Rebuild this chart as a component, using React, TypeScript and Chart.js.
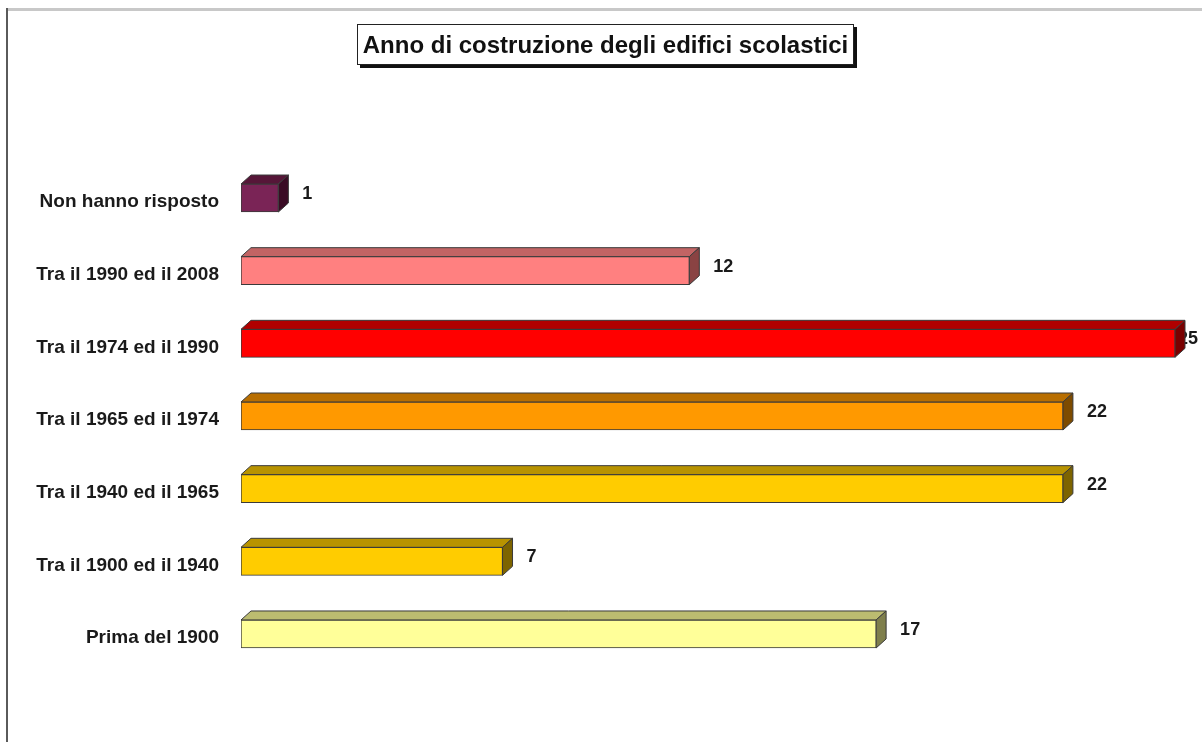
import React, { useEffect, useRef } from "react";
import { Chart, registerables } from "chart.js";

Chart.register(...registerables);

const titleText = "Anno di costruzione degli edifici scolastici";
const categories = [
  "Non hanno risposto",
  "Tra il 1990 ed il 2008",
  "Tra il 1974 ed il 1990",
  "Tra il 1965 ed il 1974",
  "Tra il 1940 ed il 1965",
  "Tra il 1900 ed il 1940",
  "Prima del 1900",
];
const values = [1, 12, 25, 22, 22, 7, 17];
const frontColors = ["#7a2456", "#ff8080", "#ff0000", "#ff9900", "#ffcc00", "#ffcc00", "#ffff99"];
const topColors = ["#561638", "#c26464", "#b00000", "#b86e00", "#b89300", "#b89300", "#bcbc70"];
const sideColors = ["#3a0c25", "#8a4343", "#7a0000", "#7d4b00", "#7d6400", "#7d6400", "#7f7f4c"];
const X_MAX = 25;

const FONT = "'Liberation Sans', Arial, Helvetica, sans-serif";

const bar3d = {
  id: "bar3d",
  beforeDatasetsDraw(chart: any) {
    const ctx = chart.ctx as CanvasRenderingContext2D;
    const meta = chart.getDatasetMeta(0);
    const DX = 10;
    const DY = 9;
    ctx.save();
    // value labels (drawn first so bar faces may cover them)
    ctx.font = "bold 18px " + FONT;
    ctx.fillStyle = "#1a1a1a";
    ctx.textBaseline = "middle";
    ctx.textAlign = "left";
    meta.data.forEach((el: any, i: number) => {
      const { x, y } = el.getProps(["x", "y"], true);
      const txt = String(values[i]);
      const w = ctx.measureText(txt).width;
      let lx = x + 24;
      if (lx + w > chart.width - 4) lx = chart.width - 4 - w;
      ctx.fillText(txt, lx, y - 4);
    });
    // 3D faces
    ctx.lineWidth = 1;
    ctx.strokeStyle = "#3a3a3a";
    ctx.lineJoin = "round";
    meta.data.forEach((el: any, i: number) => {
      const { x, y, base, height } = el.getProps(["x", "y", "base", "height"], true);
      const t = y - height / 2;
      const b = y + height / 2;
      ctx.beginPath();
      ctx.moveTo(base, t);
      ctx.lineTo(base + DX, t - DY);
      ctx.lineTo(x + DX, t - DY);
      ctx.lineTo(x, t);
      ctx.closePath();
      ctx.fillStyle = topColors[i];
      ctx.fill();
      ctx.stroke();
      ctx.beginPath();
      ctx.moveTo(x, t);
      ctx.lineTo(x + DX, t - DY);
      ctx.lineTo(x + DX, b - DY);
      ctx.lineTo(x, b);
      ctx.closePath();
      ctx.fillStyle = sideColors[i];
      ctx.fill();
      ctx.stroke();
    });
    ctx.restore();
  },
};

export default function App() {
  const ref = useRef<HTMLCanvasElement | null>(null);
  useEffect(() => {
    if (!ref.current) return;
    const chart = new Chart(ref.current, {
      type: "bar",
      data: {
        labels: categories,
        datasets: [
          {
            data: values,
            backgroundColor: frontColors,
            borderColor: "#3a3a3a",
            borderWidth: 1,
            borderSkipped: false,
            barThickness: 28,
          } as any,
        ],
      },
      options: {
        indexAxis: "y",
        animation: false,
        responsive: false,
        devicePixelRatio: 1,
        layout: { padding: { left: 0, right: 27, top: 161.7, bottom: 71.7 } },
        plugins: {
          legend: { display: false },
          title: { display: false },
          tooltip: { enabled: false },
        },
        scales: {
          x: { display: false, min: 0, max: X_MAX },
          y: {
            type: "category",
            offset: true,
            grid: { display: false, drawTicks: false, tickLength: 0 },
            border: { display: false },
            ticks: {
              autoSkip: false,
              padding: 22,
              labelOffset: 4,
              color: "#1a1a1a",
              font: { family: FONT, size: 19, weight: "bold" },
            },
            afterFit: (s: any) => {
              s.width = 241;
            },
          },
        },
      } as any,
      plugins: [bar3d],
    });
    return () => chart.destroy();
  }, []);

  return (
    <div
      style={{
        position: "fixed",
        left: 0,
        top: 0,
        width: 1202,
        height: 742,
        background: "#ffffff",
        overflow: "hidden",
      }}
    >
      <canvas
        ref={ref}
        width={1202}
        height={742}
        style={{ position: "absolute", left: 0, top: 0, width: 1202, height: 742 }}
      />
      <div style={{ position: "absolute", left: 6, top: 8, width: 1196, height: 3, background: "#c8c8c8" }} />
      <div style={{ position: "absolute", left: 6, top: 8, width: 2, height: 734, background: "#5a5a5a" }} />
      <div
        style={{
          position: "absolute",
          left: 357,
          top: 24,
          width: 495,
          height: 39,
          border: "1px solid #222",
          boxShadow: "3px 3px 0 #111",
          background: "#fff",
          display: "flex",
          alignItems: "center",
          justifyContent: "center",
          fontFamily: FONT,
          fontWeight: "bold",
          fontSize: 24,
          color: "#111",
          whiteSpace: "nowrap",
        }}
      >
        {titleText}
      </div>
    </div>
  );
}
